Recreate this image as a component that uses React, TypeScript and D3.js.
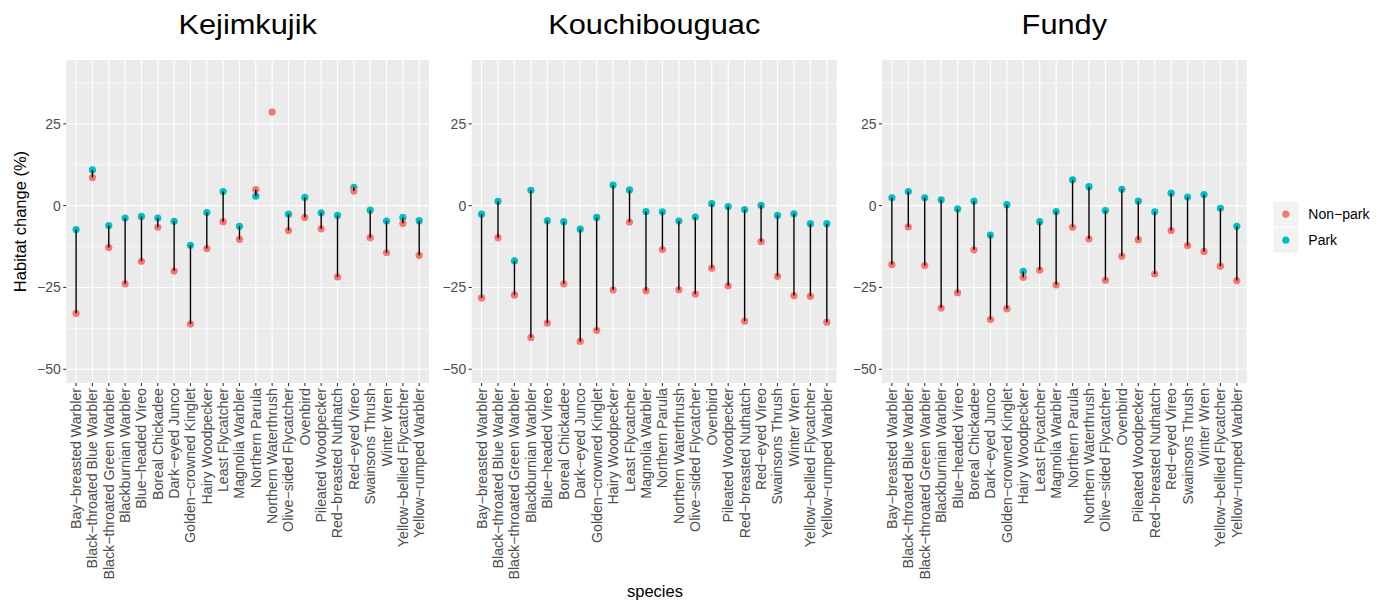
import React from "react";
import * as d3 from "d3";

const species = [
  "Bay-breasted Warbler", "Black-throated Blue Warbler", "Black-throated Green Warbler",
  "Blackburnian Warbler", "Blue-headed Vireo", "Boreal Chickadee", "Dark-eyed Junco",
  "Golden-crowned Kinglet", "Hairy Woodpecker", "Least Flycatcher", "Magnolia Warbler",
  "Northern Parula", "Northern Waterthrush", "Olive-sided Flycatcher", "Ovenbird",
  "Pileated Woodpecker", "Red-breasted Nuthatch", "Red-eyed Vireo", "Swainsons Thrush",
  "Winter Wren", "Yellow-bellied Flycatcher", "Yellow-rumped Warbler",
];

const parks = ["Kejimkujik", "Kouchibouguac", "Fundy"];
const groups = ["Non-park", "Park"];

const kejimkujikPark: (number | null)[] = [-7.3, 10.9, -6.1, -3.8, -3.3, -3.8, -4.8, -12.1, -2.1, 4.3, -6.3, 2.9, null, -2.6, 2.5, -2.2, -3.0, 5.6, -1.4, -4.7, -3.6, -4.6];
const kejimkujikNonPark = [-32.9, 8.6, -12.8, -23.9, -17.0, -6.6, -20.0, -36.2, -13.1, -4.9, -10.3, 4.9, 28.6, -7.6, -3.6, -7.1, -21.8, 4.5, -9.8, -14.4, -5.4, -15.2];

const kouchibouguacPark: (number | null)[] = [-2.6, 1.3, -16.9, 4.7, -4.6, -4.9, -7.2, -3.6, 6.3, 4.8, -1.8, -1.9, -4.7, -3.5, 0.6, -0.3, -1.2, 0.1, -3.0, -2.5, -5.5, -5.5];
const kouchibouguacNonPark = [-28.2, -9.8, -27.3, -40.3, -35.9, -23.9, -41.5, -38.1, -25.8, -5.0, -26.0, -13.4, -25.7, -27.0, -19.1, -24.5, -35.3, -11.0, -21.6, -27.5, -27.7, -35.6];

const fundyPark: (number | null)[] = [2.4, 4.3, 2.4, 1.8, -1.0, 1.4, -9.0, 0.3, -20.1, -4.9, -1.8, 7.9, 5.8, -1.5, 5.0, 1.4, -1.9, 3.8, 2.6, 3.4, -0.8, -6.3];
const fundyNonPark = [-18.0, -6.5, -18.3, -31.3, -26.6, -13.5, -34.8, -31.5, -21.9, -19.7, -24.2, -6.6, -10.2, -22.8, -15.5, -10.4, -20.9, -7.6, -12.2, -14.0, -18.5, -22.9];

const yMajorTicks = [-50, -25, 0, 25];
const yMinorTicks = [-37.5, -12.5, 12.5, 37.5];
const yDomain: [number, number] = [-54.2, 44.5];

const parkData = [
  { park: kejimkujikPark, non: kejimkujikNonPark },
  { park: kouchibouguacPark, non: kouchibouguacNonPark },
  { park: fundyPark, non: fundyNonPark },
];

const COLORS: Record<string, string> = { "Non-park": "#F8766D", Park: "#00BFC4" };
const FONT = "'Liberation Sans', Arial, Helvetica, sans-serif";

const panelBounds = [
  [66.3, 429],
  [471.7, 836.7],
  [882, 1246.7],
];
const TOP = 60;
const BOTTOM = 383;

const disp = (s: string) => s.replace(/-/g, "\u2212");

export default function App() {
  const y = d3.scaleLinear().domain(yDomain).range([BOTTOM, TOP]);
  const R = 3.6;

  return (
    <svg width={1386} height={605} style={{ position: "absolute", left: 0, top: 0, background: "#fff" }} fontFamily={FONT}>
      {parks.map((name, pi) => {
        const [l, r] = panelBounds[pi];
        const x = d3.scalePoint<string>().domain(species).range([l, r]).padding(0.6);
        const d = parkData[pi];
        return (
          <g key={name}>
            <rect x={l} y={TOP} width={r - l} height={BOTTOM - TOP} fill="#EBEBEB" />
            {yMinorTicks.map((t) => (
              <line key={"mn" + t} x1={l} x2={r} y1={y(t)} y2={y(t)} stroke="#fff" strokeWidth={0.55} />
            ))}
            {yMajorTicks.map((t) => (
              <line key={"mj" + t} x1={l} x2={r} y1={y(t)} y2={y(t)} stroke="#fff" strokeWidth={1.1} />
            ))}
            {species.map((s) => (
              <line key={"vx" + s} x1={x(s)} x2={x(s)} y1={TOP} y2={BOTTOM} stroke="#fff" strokeWidth={1.1} />
            ))}
            {yMajorTicks.map((t) => (
              <g key={"yt" + t}>
                <line x1={l - 3} x2={l} y1={y(t)} y2={y(t)} stroke="#333" strokeWidth={1.1} />
                <text x={l - 5.5} y={y(t)} dy="0.35em" textAnchor="end" fontSize={14} fill="#4D4D4D">
                  {disp(String(t))}
                </text>
              </g>
            ))}
            {species.map((s) => (
              <g key={"xt" + s}>
                <line x1={x(s)} x2={x(s)} y1={BOTTOM} y2={BOTTOM + 3} stroke="#333" strokeWidth={1.1} />
                <text
                  transform={`translate(${x(s)},${BOTTOM + 5}) rotate(-90)`}
                  dy="0.35em"
                  textAnchor="end"
                  fontSize={14.2}
                  fill="#4D4D4D"
                >
                  {disp(s)}
                </text>
              </g>
            ))}
            {species.map((s, i) => {
              const pv = d.park[i];
              return pv === null ? null : (
                <circle key={"p" + s} cx={x(s)} cy={y(pv)} r={R} fill={COLORS.Park} />
              );
            })}
            {species.map((s, i) => (
              <circle key={"n" + s} cx={x(s)} cy={y(d.non[i])} r={R} fill={COLORS["Non-park"]} />
            ))}
            {species.map((s, i) => {
              const pv = d.park[i];
              return pv === null ? null : (
                <line key={"sg" + s} x1={x(s)} x2={x(s)} y1={y(pv)} y2={y(d.non[i])} stroke="#000" strokeWidth={1.4} />
              );
            })}
            <text
              transform={`translate(${(l + r) / 2},34) scale(1.14,1)`}
              textAnchor="middle"
              fontSize={27}
              fill="#000"
            >
              {name}
            </text>
          </g>
        );
      })}
      <text transform={`translate(26,${(TOP + BOTTOM) / 2}) rotate(-90)`} textAnchor="middle" fontSize={16.5} fill="#000">
        Habitat change (%)
      </text>
      <text x={655} y={597} textAnchor="middle" fontSize={16.5} fill="#000">
        species
      </text>
      {groups.map((g, i) => (
        <g key={g} transform={`translate(1273.3,${201.7 + i * 26})`}>
          <rect width={25} height={25} fill="#F2F2F2" />
          <circle cx={12.5} cy={12.5} r={R} fill={COLORS[g]} />
          <text x={35} y={12.5} dy="0.35em" fontSize={14} fill="#000">
            {disp(g)}
          </text>
        </g>
      ))}
    </svg>
  );
}
